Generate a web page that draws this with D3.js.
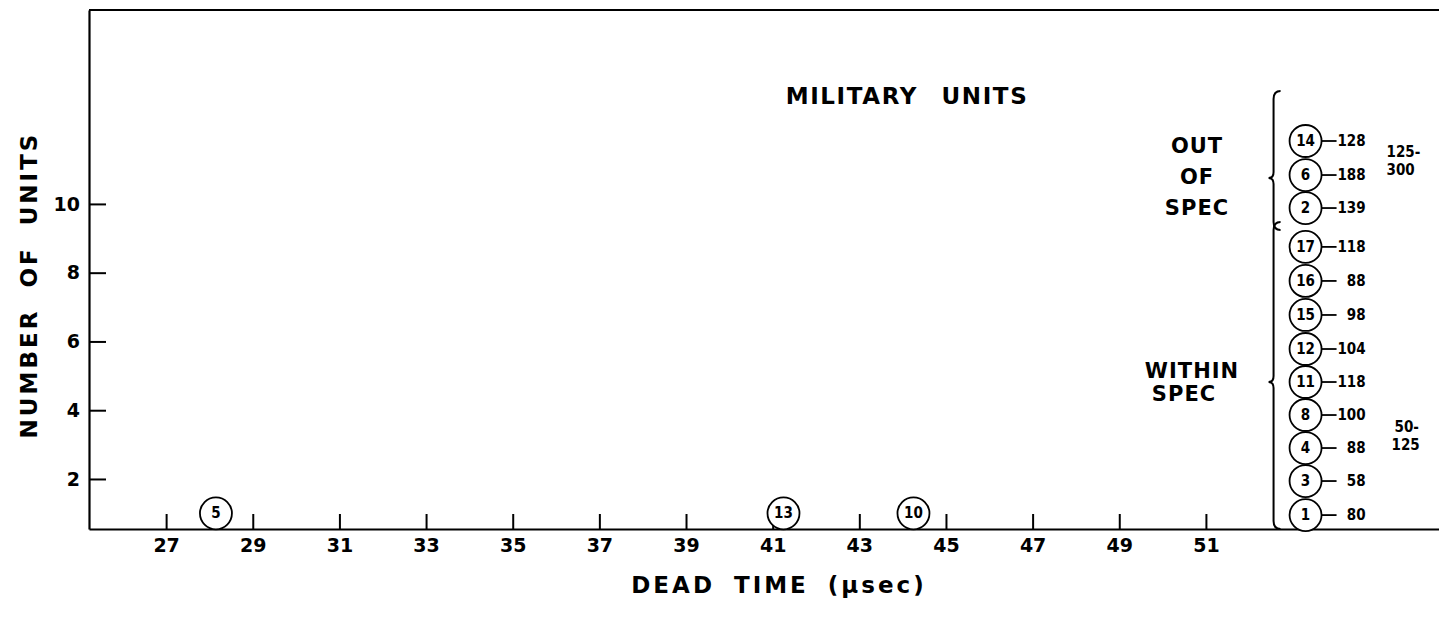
<!DOCTYPE html>
<html>
<head>
<meta charset="utf-8">
<script src="https://cdn.jsdelivr.net/npm/d3@7/dist/d3.min.js"></script>
<style>
  html, body { margin: 0; padding: 0; background: #fff; }
  svg { display: block; }
  .bold { font-family: 'DejaVu Sans', 'Liberation Sans', sans-serif; font-weight: bold; fill: #000; }
  .narrow { font-family: 'Liberation Sans Narrow', 'DejaVu Sans Condensed', 'Liberation Sans', sans-serif; fill: #000; }
</style>
</head>
<body>
<svg id="chart" width="1439" height="622"></svg>
<script>
// ---- data ----
const xTicks = [27, 29, 31, 33, 35, 37, 39, 41, 43, 45, 47, 49, 51];
const yTicks = [2, 4, 6, 8, 10];

// units plotted along the dead-time axis
const plottedUnits = ["5", "13", "10"];
const plottedDeadTime = [28.15, 41.25, 44.25];
const plottedCount = [1, 1, 1];

// stacked column at the right
const columnDeadTime = 53.3;
const outSpecUnits = ["14", "6", "2"];
const outSpecValues = ["128", "188", "139"];
const outSpecLevels = [11.83, 10.84, 9.88];
const outSpecRange = ["125-", "300"];

const withinUnits = ["17", "16", "15", "12", "11", "8", "4", "3", "1"];
const withinValues = ["118", "88", "98", "104", "118", "100", "88", "58", "80"];
const withinLevels = [8.75, 7.76, 6.77, 5.78, 4.82, 3.86, 2.90, 1.94, 0.95];
const withinRange = ["50-", "125"];

// ---- drawing ----
const svg = d3.select("#chart");
const x = d3.scaleLinear().domain([25.22, 56.38]).range([89, 1439]);
const y = d3.scaleLinear().domain([0.545, 15.64]).range([529, 10]);

// frame: top line
svg.append("line").attr("x1", x.range()[0]).attr("x2", x.range()[1])
  .attr("y1", y.range()[1]).attr("y2", y.range()[1])
  .attr("stroke", "#000").attr("stroke-width", 2.2);

const xAxis = d3.axisBottom(x).tickValues(xTicks).tickSize(-15).tickSizeOuter(0).tickPadding(10).tickFormat(d3.format("d"));
const gx = svg.append("g").attr("transform", `translate(0,${y.range()[0]})`).call(xAxis);
gx.select(".domain").attr("stroke-width", 2.2);
gx.selectAll(".tick line").attr("stroke-width", 2);
gx.selectAll(".tick text").attr("class", "bold").attr("font-size", 19).attr("font-family", null);

const yAxis = d3.axisLeft(y).tickValues(yTicks).tickSize(-17).tickSizeOuter(0).tickPadding(9).tickFormat(d3.format("d"));
const gy = svg.append("g").attr("transform", `translate(${x.range()[0]},0)`).call(yAxis);
gy.select(".domain").attr("stroke-width", 2.2);
gy.selectAll(".tick line").attr("stroke-width", 2);
gy.selectAll(".tick text").attr("class", "bold").attr("font-size", 19).attr("font-family", null);

// axis titles
svg.append("text").attr("class", "bold").attr("x", 779).attr("y", 593)
  .attr("text-anchor", "middle").attr("font-size", 23).attr("letter-spacing", 3)
  .attr("word-spacing", 8).text("DEAD TIME (μsec)");
svg.append("text").attr("class", "bold")
  .attr("transform", "translate(37,285) rotate(-90)")
  .attr("text-anchor", "middle").attr("font-size", 23).attr("letter-spacing", 3)
  .attr("word-spacing", 10).text("NUMBER OF UNITS");

// chart title
svg.append("text").attr("class", "bold").attr("x", 907).attr("y", 104)
  .attr("text-anchor", "middle").attr("font-size", 23).attr("letter-spacing", 1.6)
  .attr("word-spacing", 14).text("MILITARY UNITS");

const R = 16;
function unitCircle(g, cx, cy, label) {
  g.append("circle").attr("cx", cx).attr("cy", cy).attr("r", R)
    .attr("fill", "#fff").attr("stroke", "#000").attr("stroke-width", 1.8);
  g.append("text").attr("class", "narrow").attr("x", cx).attr("y", cy + 5)
    .attr("text-anchor", "middle").attr("font-size", 15).attr("font-weight", "bold").text(label);
}

// units on the axis
const gp = svg.append("g");
plottedUnits.forEach((u, i) => unitCircle(gp, x(plottedDeadTime[i]), y(plottedCount[i]), u));

// stacked column
const gc = svg.append("g");
const cx = x(columnDeadTime);
function stack(units, values, levels) {
  units.forEach((u, i) => {
    const cy = y(levels[i]);
    gc.append("line").attr("x1", cx + R).attr("x2", cx + R + 15).attr("y1", cy).attr("y2", cy)
      .attr("stroke", "#000").attr("stroke-width", 1.8);
    unitCircle(gc, cx, cy, u);
    gc.append("text").attr("class", "narrow").attr("font-weight", "bold")
      .attr("x", cx + R + 44).attr("y", cy + 5).attr("text-anchor", "end")
      .attr("font-size", 15).text(values[i]);
  });
}
stack(outSpecUnits, outSpecValues, outSpecLevels);
stack(withinUnits, withinValues, withinLevels);

// range labels
function rangeLabel(lines, lx, ly, dx) {
  lines.forEach((t, i) => {
    gc.append("text").attr("class", "narrow").attr("font-weight", "bold")
      .attr("x", lx + (dx[i] || 0)).attr("y", ly + i * 18).attr("font-size", 15).text(t);
  });
}
rangeLabel(outSpecRange, cx + 81, y(outSpecLevels[0]) + 16, [0, 0]);
rangeLabel(withinRange, cx + 86, y(withinLevels[6]) - 16, [3, 0]);

// braces
function brace(bx, y0, y1, ym) {
  const p = d3.path();
  p.moveTo(bx + 7, y0);
  p.quadraticCurveTo(bx, y0, bx, y0 + 8);
  p.lineTo(bx, ym - 6);
  p.quadraticCurveTo(bx, ym, bx - 5, ym);
  p.quadraticCurveTo(bx, ym, bx, ym + 6);
  p.lineTo(bx, y1 - 8);
  p.quadraticCurveTo(bx, y1, bx + 7, y1);
  svg.append("path").attr("d", p.toString()).attr("fill", "none")
    .attr("stroke", "#000").attr("stroke-width", 2);
}
brace(cx - 32, y(outSpecLevels[0]) - 50, y(outSpecLevels[2]) + 22, y(outSpecLevels[1]) + 3);
brace(cx - 32, y(withinLevels[0]) - 25, y.range()[0], y(withinLevels[4]));

// group labels
function groupLabel(lines, lx, ly, step) {
  lines.forEach((t, i) => {
    svg.append("text").attr("class", "bold").attr("x", lx).attr("y", ly + i * step)
      .attr("text-anchor", "middle").attr("font-size", 21).attr("letter-spacing", 1).text(t);
  });
}
groupLabel(["OUT", "OF", "SPEC"], 1197, 153, 31);
groupLabel(["WITHIN"], 1192, 378, 0);
groupLabel(["SPEC"], 1184, 401, 0);
</script>
</body>
</html>
